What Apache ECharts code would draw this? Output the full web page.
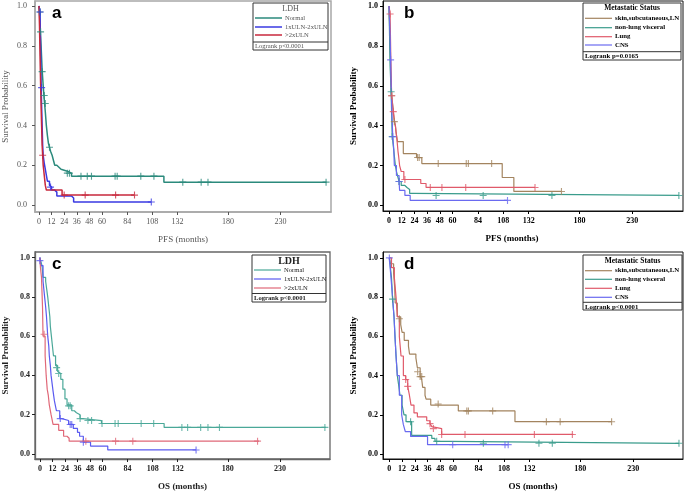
<!DOCTYPE html>
<html>
<head>
<meta charset="utf-8">
<script src="https://cdn.jsdelivr.net/npm/echarts@6/dist/echarts.min.js"></script>
<style>
  html, body { margin: 0; padding: 0; background: #fff; }
  #main { width: 685px; height: 492px; }
</style>
</head>
<body>
<div id="main"></div>
<script>
// tick labels
var xTicks = [0, 12, 24, 36, 48, 60, 84, 108, 132, 180, 230];
var yTicks = [0, 0.2, 0.4, 0.6, 0.8, 1.0];

// legend names
var ldhNames = ['Normal', '1xULN-2xULN', '>2xULN'];
var metNames = ['skin,subcutaneous,LN', 'non-lung visceral', 'Lung', 'CNS'];

// panel a : PFS by LDH  [months, survival]
var aNormal = [[0,1],[0.5,0.97],[1,0.9],[2,0.8],[3,0.68],[4,0.6],[5,0.53],[6,0.47],[7,0.4],[8,0.35],[9,0.31],[10,0.29],[11,0.27],[12.5,0.25],[14,0.22],[15,0.2],[17,0.19],[19,0.18],[21,0.17],[27,0.16],[31,0.145],[119,0.115],[274,0.115]];
var aNormalCens = [[1,0.97],[1.5,0.87],[3,0.67],[5,0.55],[6,0.51],[10,0.29],[27,0.16],[29,0.16],[40,0.145],[46,0.145],[50,0.145],[72.5,0.145],[74.5,0.145],[97,0.145],[109.5,0.145],[137,0.115],[154.5,0.115],[161,0.115],[273.5,0.115]];
var aMid = [[0,1],[1,0.97],[1.5,0.8],[2,0.62],[2.5,0.5],[3,0.4],[3.5,0.3],[4,0.25],[5,0.21],[6,0.18],[7,0.15],[8,0.12],[10,0.1],[11,0.09],[12,0.075],[15,0.065],[17,0.045],[31,0.035],[33,0.015],[107,0.015]];
var aMidCens = [[1,0.97],[2.5,0.59],[11,0.09],[107,0.015]];
var aHigh = [[0,1],[0.5,0.9],[1,0.75],[1.5,0.62],[2,0.5],[2.5,0.4],[3,0.3],[3.5,0.25],[4,0.2],[5,0.15],[6,0.1],[7,0.075],[22,0.05],[91,0.05]];
var aHighCens = [[3.5,0.25],[24,0.05],[44,0.05],[73,0.05],[91,0.05]];

// panel b : PFS by metastatic status
var bSkin = [[0,1],[0.5,0.9],[1,0.8],[1.5,0.7],[2,0.6],[2.5,0.55],[4,0.48],[5,0.42],[6,0.4],[6.6,0.37],[8,0.32],[13.5,0.26],[26,0.24],[31,0.21],[107,0.14],[118,0.07],[163,0.07]];
var bSkinCens = [[2.5,0.55],[5,0.42],[27,0.24],[28.5,0.24],[46.5,0.21],[73,0.21],[75,0.21],[97,0.21],[163,0.07]];
var bVisc = [[0,1],[0.5,0.85],[1,0.7],[2,0.57],[2.5,0.45],[3,0.35],[4,0.3],[5,0.25],[6,0.2],[7,0.17],[8,0.15],[9.5,0.12],[11.5,0.1],[15,0.09],[17,0.08],[19.5,0.06],[23,0.05],[274,0.05]];
var bViscCens = [[2,0.57],[3,0.345],[9.5,0.12],[44.5,0.05],[89,0.05],[154,0.05],[274,0.05]];
var bLung = [[0,1],[1,0.96],[1.5,0.8],[2,0.65],[2.5,0.55],[4,0.47],[5,0.43],[6,0.4],[7,0.35],[7.5,0.33],[8.5,0.27],[9,0.25],[10,0.2],[11.5,0.17],[14,0.13],[30,0.11],[35,0.09],[138,0.09]];
var bLungCens = [[1,0.96],[2.5,0.55],[4,0.47],[15,0.13],[39,0.09],[50,0.09],[72.5,0.09],[138,0.09]];
var bCns = [[0,1],[1,0.85],[1.5,0.73],[2,0.6],[2.5,0.5],[3,0.42],[3.5,0.35],[4.5,0.28],[5,0.2],[7,0.15],[9.5,0.12],[10,0.075],[15,0.05],[20,0.025],[112,0.025]];
var bCnsCens = [[1.5,0.73],[3.5,0.345],[9.5,0.12],[112,0.025]];

// panel c : OS by LDH
var cNormal = [[0,1],[1,0.98],[2,0.96],[3,0.9],[5.5,0.88],[6.5,0.84],[7.5,0.8],[8.5,0.75],[9.5,0.7],[10,0.65],[11,0.6],[12,0.55],[13,0.5],[15,0.45],[17,0.42],[18,0.41],[20,0.38],[22,0.33],[24,0.28],[26,0.25],[30.5,0.22],[33,0.21],[35,0.2],[38.5,0.18],[41,0.17],[59,0.155],[119,0.135],[274,0.135]];
var cNormalCens = [[16,0.44],[18,0.41],[27.5,0.245],[29,0.245],[38.5,0.18],[46,0.17],[49.5,0.17],[59.5,0.155],[72,0.155],[75,0.155],[97,0.155],[109,0.155],[136,0.135],[141.5,0.135],[154,0.135],[161,0.135],[172,0.135],[273,0.135]];
var cMid = [[0,1],[0.5,0.98],[1,0.96],[3,0.88],[4.5,0.8],[5.5,0.75],[6.3,0.7],[7.5,0.6],[8.5,0.55],[9,0.5],[10,0.45],[10.7,0.4],[12.6,0.32],[13.9,0.27],[15.8,0.22],[19,0.18],[21,0.17],[27.5,0.15],[32,0.13],[36,0.11],[38,0.09],[41.6,0.06],[48.5,0.04],[65,0.02],[149.6,0.02]];
var cMidCens = [[0,0.985],[19.5,0.18],[29,0.15],[30.5,0.15],[41.6,0.06],[149.6,0.02]];
var cHigh = [[0,1],[0.5,0.95],[1.5,0.9],[2.5,0.75],[3,0.6],[5,0.5],[6,0.4],[7,0.33],[8,0.3],[9,0.25],[10.7,0.2],[12.6,0.15],[18,0.12],[22.7,0.09],[26,0.08],[28,0.065],[210,0.065]];
var cHighCens = [[4,0.61],[44,0.065],[72.5,0.065],[89,0.065],[208.5,0.065]];

// panel d : OS by metastatic status
var dSkin = [[0,1],[1,0.97],[4,0.92],[5,0.85],[5.5,0.77],[7.5,0.7],[10.7,0.66],[12,0.62],[14,0.58],[18,0.55],[19,0.51],[25,0.49],[26.4,0.44],[29,0.4],[30.5,0.38],[31.4,0.34],[33.6,0.3],[34.6,0.28],[39,0.25],[65,0.22],[118.4,0.165],[209.5,0.165]];
var dSkinCens = [[9.4,0.69],[26.7,0.42],[29,0.395],[30.5,0.395],[46,0.255],[73,0.22],[74.5,0.22],[97.4,0.22],[148,0.165],[161,0.165],[209.5,0.165]];
var dVisc = [[0,1],[1,0.95],[2,0.9],[2.5,0.85],[3,0.79],[4.4,0.7],[5.3,0.6],[6.3,0.5],[7.5,0.4],[8.8,0.35],[10,0.3],[12,0.25],[13.8,0.2],[15.7,0.165],[21,0.095],[40,0.08],[43,0.065],[57,0.055],[273,0.055]];
var dViscCens = [[3,0.79],[20,0.165],[44.6,0.065],[88.6,0.055],[141,0.055],[153.6,0.055],[273,0.055]];
var dLung = [[0,1],[2,0.95],[4.7,0.9],[6.3,0.8],[7.5,0.7],[9.4,0.6],[11,0.5],[13.2,0.4],[15.4,0.38],[17.3,0.345],[18.9,0.3],[20.4,0.25],[23.2,0.21],[26.4,0.19],[35.2,0.17],[38.3,0.155],[40,0.14],[41.5,0.13],[49.3,0.1],[173.4,0.1]];
var dLungCens = [[15.4,0.38],[17.3,0.345],[38.3,0.155],[41.5,0.13],[49.3,0.1],[71.3,0.1],[136.7,0.1],[172.5,0.1]];
var dCns = [[0,1],[1.5,0.9],[3,0.8],[4.4,0.7],[5.3,0.6],[6.3,0.5],[7.5,0.4],[9.4,0.3],[11.6,0.2],[13.2,0.15],[15,0.115],[20,0.09],[36,0.048],[112,0.048]];
var dCnsCens = [[0,1],[59.7,0.048],[109,0.048],[112,0.048]];

var SERIF = '"Liberation Serif", "DejaVu Serif", serif';
var PLUS = 'path://M0,4.2H10V5.8H0ZM4.2,0H5.8V10H4.2Z';

// panel layout / look
var panels = [
  { letter: 'a', xName: 'PFS (months)', xNamePad: 0, left: 31, top: 1, width: 300, height: 211, xmin: -3.8, xmax: 278.2, ymin: -0.035, ymax: 1.025,
    frame: '#a8a8a8', frameW: 1.5, text: '#555', bold: 'normal', legBold: 'normal', legSize: 6.6, labMargin: 8,
    curves: [aNormal, aMid, aHigh], cens: [aNormalCens, aMidCens, aHighCens],
    colors: ['#2b8a7c', '#3a3ae2', '#c8283c'], lw: 1.5, names: ldhNames, p: 'Logrank p<0.0001',
    box: [253, 3, 75, 47], rows: [18, 27, 35], titleY: 8.5, title: 'LDH', titleSize: 8, sep: 42, pY: 46.5, lx: [255, 282] },
  { letter: 'b', xName: 'PFS (months)', xNamePad: 42, left: 383, top: 1, width: 300, height: 210, xmin: -5.7, xmax: 277.9, ymin: -0.028, ymax: 1.025,
    frame: '#111', frameW: 1, text: '#000', bold: 'bold', legBold: 'bold', legSize: 6.8, labMargin: 5,
    curves: [bSkin, bVisc, bLung, bCns], cens: [bSkinCens, bViscCens, bLungCens, bCnsCens],
    colors: ['#a3845f', '#3a9c8c', '#e05a6a', '#6a6af0'], lw: 1.2, names: metNames, p: 'Logrank p=0.0165',
    box: [583, 3, 98, 57], rows: [18.3, 27.7, 36.7, 45], titleY: 8.5, title: 'Metastatic Status', titleSize: 7.5, sep: 51.7, pY: 56, lx: [585, 612] },
  { letter: 'c', xName: 'OS (months)', xNamePad: 0, left: 31, top: 252, width: 299, height: 210.5, xmin: -4.7, xmax: 277.9, ymin: -0.026, ymax: 1.029,
    frame: '#666', frameW: 1.3, text: '#222', bold: 'bold', legBold: 'normal', legSize: 6.6, labMargin: 5,
    curves: [cNormal, cMid, cHigh], cens: [cNormalCens, cMidCens, cHighCens],
    colors: ['#4aa898', '#5a5af0', '#e06878'], lw: 1.2, names: ldhNames, p: 'Logrank p<0.0001',
    box: [252, 255, 74, 47], rows: [270, 279, 288], titleY: 261, title: 'LDH', titleSize: 10, sep: 293.5, pY: 298, lx: [254, 281] },
  { letter: 'd', xName: 'OS (months)', xNamePad: 0, left: 383, top: 252, width: 300, height: 210, xmin: -6, xmax: 276.8, ymin: -0.025, ymax: 1.03,
    frame: '#111', frameW: 1, text: '#000', bold: 'bold', legBold: 'bold', legSize: 6.8, labMargin: 5,
    curves: [dSkin, dVisc, dLung, dCns], cens: [dSkinCens, dViscCens, dLungCens, dCnsCens],
    colors: ['#a3845f', '#3a9c8c', '#e05a6a', '#6a6af0'], lw: 1.2, names: metNames, p: 'Logrank p<0.0001',
    box: [583, 255, 99, 55], rows: [270.7, 279.3, 288.3, 297.3], titleY: 261, title: 'Metastatic Status', titleSize: 7.5, sep: 302.3, pY: 307, lx: [585, 612] }
];

var grids = [], xAxes = [], yAxes = [], series = [], graphics = [];

panels.forEach(function (p, i) {
  grids.push({ left: p.left, top: p.top, width: p.width, height: p.height, show: true,
    borderColor: p.frame, borderWidth: p.frameW, backgroundColor: 'transparent' });

  xAxes.push({
    gridIndex: i, type: 'value', min: p.xmin, max: p.xmax,
    name: p.xName, nameLocation: 'middle', nameGap: 23,
    nameTextStyle: { fontFamily: SERIF, fontSize: 9, color: p.text, fontWeight: p.bold, padding: [0, p.xNamePad, 0, 0] },
    axisLine: { show: true, onZero: false, lineStyle: { color: p.frame, width: p.frameW } },
    axisTick: { show: true, length: 3, customValues: xTicks, lineStyle: { color: p.text } },
    axisLabel: { customValues: xTicks, margin: 6, fontFamily: SERIF, fontSize: 8, color: p.text, fontWeight: p.bold },
    splitLine: { show: false }
  });
  yAxes.push({
    gridIndex: i, type: 'value', min: p.ymin, max: p.ymax,
    name: 'Survival Probability', nameLocation: 'middle', nameGap: 25, nameRotate: 90,
    nameTextStyle: { fontFamily: SERIF, fontSize: 9, color: p.text, fontWeight: p.bold },
    axisLine: { show: true, onZero: false, lineStyle: { color: p.frame, width: p.frameW } },
    axisTick: { show: true, length: 3, customValues: yTicks, lineStyle: { color: p.text } },
    axisLabel: { customValues: yTicks, margin: p.labMargin, fontFamily: SERIF, fontSize: 8, color: p.text, fontWeight: p.bold,
      formatter: function (v) { return v.toFixed(1); } },
    splitLine: { show: false }
  });

  p.curves.forEach(function (c, k) {
    series.push({ type: 'line', step: 'end', xAxisIndex: i, yAxisIndex: i, data: c, symbol: 'none',
      lineStyle: { color: p.colors[k], width: p.lw }, silent: true, animation: false, z: 3 });
    series.push({ type: 'scatter', xAxisIndex: i, yAxisIndex: i, data: p.cens[k], symbol: PLUS, symbolSize: 7,
      itemStyle: { color: p.colors[k] }, silent: true, animation: false, z: 4 });
  });

  // legend box
  var b = p.box;
  graphics.push({ type: 'rect', z: 100, shape: { x: b[0], y: b[1], width: b[2], height: b[3] },
    style: { fill: '#fff', stroke: '#333', lineWidth: 1 } });
  graphics.push({ type: 'line', z: 101, shape: { x1: b[0], y1: p.sep, x2: b[0] + b[2], y2: p.sep },
    style: { stroke: '#333', lineWidth: 1 } });
  graphics.push({ type: 'text', z: 101, style: { text: p.title, x: b[0] + b[2] / 2, y: p.titleY,
    textAlign: 'center', textVerticalAlign: 'middle', fill: p.text,
    font: p.bold + ' ' + p.titleSize + 'px ' + SERIF } });
  p.names.forEach(function (n, k) {
    graphics.push({ type: 'line', z: 101, shape: { x1: p.lx[0], y1: p.rows[k], x2: p.lx[1], y2: p.rows[k] },
      style: { stroke: p.colors[k], lineWidth: p.lw } });
    graphics.push({ type: 'text', z: 101, style: { text: n, x: p.lx[1] + 3, y: p.rows[k],
      textVerticalAlign: 'middle', fill: p.text, font: p.legBold + ' ' + p.legSize + 'px ' + SERIF } });
  });
  graphics.push({ type: 'text', z: 101, style: { text: p.p, x: b[0] + 2, y: p.pY,
    textVerticalAlign: 'middle', fill: p.text, font: p.bold + ' ' + p.legSize + 'px ' + SERIF } });

  // panel letter
  graphics.push({ type: 'text', z: 101, style: { text: p.letter, x: p.left + 21, y: p.top + 21,
    textVerticalAlign: 'bottom', fill: '#000', font: 'bold 17px "Liberation Sans", Arial, sans-serif' } });
});

var myChart = echarts.init(document.getElementById('main'), null, { renderer: 'canvas' });
myChart.setOption({
  animation: false,
  grid: grids,
  xAxis: xAxes,
  yAxis: yAxes,
  series: series,
  graphic: graphics
});
</script>
</body>
</html>
